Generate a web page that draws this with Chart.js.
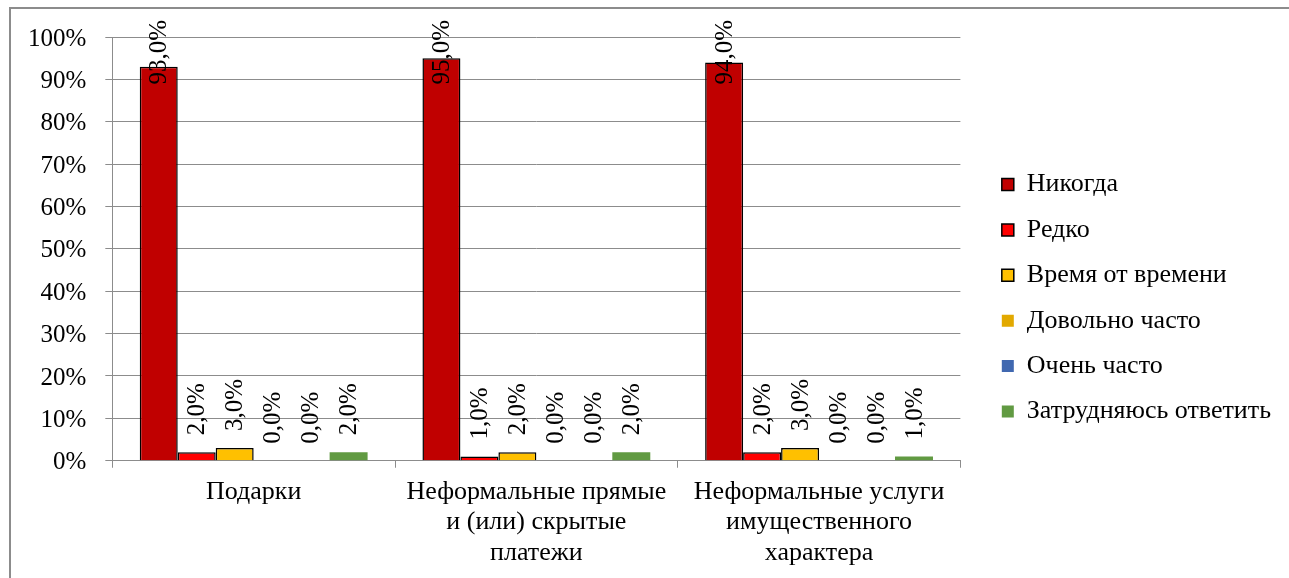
<!DOCTYPE html>
<html>
<head>
<meta charset="utf-8">
<script src="https://cdn.jsdelivr.net/npm/chart.js@4"></script>
<style>
  body { margin: 0; background: #fff; }
  #wrap { position: relative; width: 1289px; height: 578px; overflow: hidden; }
  #frame { position: absolute; left: 9px; top: 7px; width: 1300px; height: 600px;
    border-left: 2px solid #8c8c8c; border-top: 2px solid #8c8c8c; }
  canvas { position: absolute; left: 0; top: 0; }
</style>
</head>
<body>
<div id="wrap">
  <div id="frame"></div>
  <canvas id="chart" width="1289" height="578"></canvas>
</div>
<script>
var categories = [
  "Подарки",
  ["Неформальные прямые", "и (или) скрытые", "платежи"],
  ["Неформальные услуги", "имущественного", "характера"],
];
var yTicks = [0, 10, 20, 30, 40, 50, 60, 70, 80, 90, 100];

var nikogda = [93, 95, 94];
var redko = [2, 1, 2];
var vremyaOtVremeni = [3, 2, 3];
var dovolnoChasto = [0, 0, 0];
var ochenChasto = [0, 0, 0];
var zatrudnyayus = [2, 2, 1];

var serif = "'Liberation Serif', 'Times New Roman', serif";

// rotated value labels above bars, like Excel
var barLabels = {
  id: "barLabels",
  afterDatasetsDraw: function (chart) {
    var ctx = chart.ctx;
    ctx.save();
    ctx.font = "25px " + serif;
    ctx.fillStyle = "#000";
    ctx.textBaseline = "middle";
    ctx.textAlign = "left";
    chart.data.datasets.forEach(function (ds, i) {
      chart.getDatasetMeta(i).data.forEach(function (bar, j) {
        var txt = ds.data[j].toFixed(1).replace(".", ",") + "%";
        var w = ctx.measureText(txt).width;
        var y = bar.y - 17;
        if (y - w < 20) y = 20 + w;
        ctx.save();
        ctx.translate(bar.x, y);
        ctx.rotate(-Math.PI / 2);
        ctx.fillText(txt, 0, 1);
        ctx.restore();
      });
    });
    ctx.restore();
  },
};

var ctx = document.getElementById("chart").getContext("2d");
var chart = new Chart(ctx, {
  type: "bar",
  plugins: [barLabels],
  data: {
    labels: categories,
    datasets: [
      { label: "Никогда", data: nikogda, backgroundColor: "#C00000", borderColor: "#000", borderWidth: 1.5 },
      { label: "Редко", data: redko, backgroundColor: "#FF0000", borderColor: "#000", borderWidth: 1.5 },
      { label: "Время от времени", data: vremyaOtVremeni, backgroundColor: "#FFC000", borderColor: "#000", borderWidth: 1.5 },
      { label: "Довольно часто", data: dovolnoChasto, backgroundColor: "#E2A900", borderWidth: 0 },
      { label: "Очень часто", data: ochenChasto, backgroundColor: "#4068B0", borderWidth: 0 },
      { label: "Затрудняюсь ответить", data: zatrudnyayus, backgroundColor: "#619A42", borderWidth: 0 },
    ],
  },
  options: {
    responsive: false,
    animation: false,
    layout: { padding: { left: 9, top: 19, right: 8, bottom: 1 } },
    datasets: { bar: { barPercentage: 1, categoryPercentage: 0.806 } },
    plugins: {
      tooltip: { enabled: false },
      legend: {
        position: "right",
        maxWidth: 330,
        labels: {
          color: "#000",
          font: { family: serif, size: 26 },
          boxWidth: 12,
          boxHeight: 12,
          padding: 19.4,
        },
      },
    },
    scales: {
      x: {
        grid: { drawOnChartArea: false, drawTicks: true, tickLength: 7, color: "#8c8c8c", offset: true },
        border: { color: "#8c8c8c", width: 1 },
        ticks: { color: "#000", font: { family: serif, size: 26, lineHeight: 1.17 }, padding: 9, maxRotation: 0 },
      },
      y: {
        min: 0,
        max: 100,
        afterBuildTicks: function (s) {
          s.ticks = yTicks.map(function (v) { return { value: v }; });
        },
        grid: { color: "#8c8c8c", tickLength: 7 },
        border: { color: "#8c8c8c", width: 1 },
        ticks: {
          color: "#000",
          font: { family: serif, size: 25 },
          padding: 19,
          labelOffset: 2,
          callback: function (v) { return v + "%"; },
        },
      },
      gap: {
        position: "right",
        display: true,
        grid: { display: false },
        border: { display: false },
        ticks: { display: false },
        afterFit: function (s) { s.width = 22; },
      },
      gapTop: {
        position: "top",
        display: true,
        grid: { display: false },
        border: { display: false },
        ticks: { display: false },
        afterFit: function (s) { s.height = 18; },
      },
    },
  },
});
</script>
</body>
</html>
